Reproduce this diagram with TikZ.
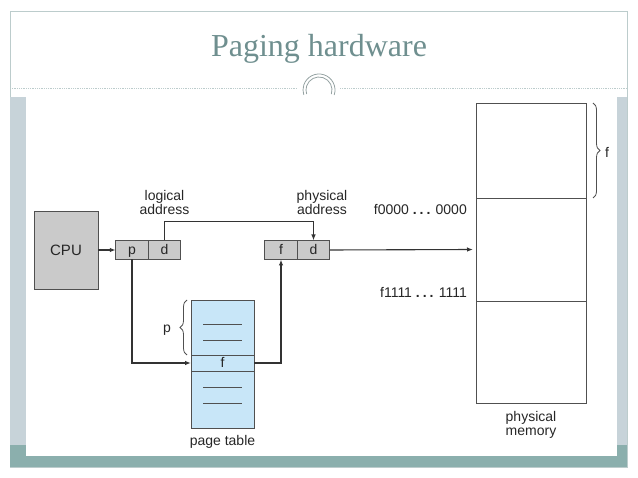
\documentclass[tikz,border=0pt]{standalone}
\usepackage{fontspec}
\setsansfont{Liberation Sans}
\newfontfamily\titlefont{Liberation Serif}
\usepackage{tikz}
\usetikzlibrary{positioning}
\usetikzlibrary{arrows.meta}
\usetikzlibrary{decorations.pathreplacing}

\definecolor{framegray}{HTML}{BCCCCC}
\definecolor{barblue}{HTML}{C7D3D9}
\definecolor{barteal}{HTML}{8BAFAD}
\definecolor{titlecol}{HTML}{6F8F8F}
\definecolor{boxgray}{HTML}{CACACA}
\definecolor{linegray}{HTML}{505050}
\definecolor{tableblue}{HTML}{C8E6F8}

\tikzset{
    txt/.style={font=\sffamily\fontsize{14}{14.5}\selectfont, text=black!85, align=center, inner sep=0pt},
    cell/.style={txt, draw=linegray, fill=boxgray, line width=0.9pt, minimum width=32.5pt, minimum height=19pt, outer sep=0pt, text height=10pt, text depth=0pt},
    memblk/.style={draw=linegray, fill=white, line width=0.9pt, minimum width=110pt, inner sep=0pt, outer sep=0pt},
    link/.style={line width=1.1pt, draw=black!80},
}

\begin{document}
\begin{tikzpicture}[x=1pt, y=-1pt, >={Latex[length=6pt,width=4.5pt]}]
    \useasboundingbox (0,0) rectangle (638,478);

    % slide frame
    \draw[framegray, line width=0.8pt] (10,11) rectangle (627,467);
    \fill[barblue] (10,97) rectangle (26,456);
    \fill[barblue] (617,97) rectangle (627,456);
    \fill[barteal] (10,445) rectangle (26,467);
    \fill[barteal] (617,445) rectangle (627,467);
    \fill[barteal] (10,456) rectangle (627,467);
    \draw[framegray, line width=0.8pt, dash pattern=on 1pt off 0.8pt] (10,88) -- (297,88);
    \draw[framegray, line width=0.8pt, dash pattern=on 1pt off 0.8pt] (340,88) -- (627,88);
    \draw[framegray!80!black, line width=0.8pt] (319,90) ++(18:16) arc[start angle=18, end angle=-198, radius=16];
    \draw[framegray!80!black, line width=0.8pt] (319,90) ++(18:13) arc[start angle=18, end angle=-198, radius=13];

    \node(title) [anchor=base, text=titlecol] at (319,57) {\titlefont\fontsize{32}{34}\selectfont Paging hardware};

    % diagram
    \node(cpu) [txt, draw=linegray, fill=boxgray, line width=0.9pt, minimum width=64pt, minimum height=78pt, outer sep=0pt] at (66,250) {\fontsize{15}{16}\selectfont CPU};
    \node(lp) [cell] at (132,250) {p};
    \node(ld) [cell, right=0pt of lp] {d};
    \node(pf) [cell] at (281,250) {f};
    \node(pd) [cell, right=0pt of pf] {d};

    \node(la) [txt] at (164.5,202.5) {logical\\address};
    \node(pa) [txt] at (322,202.5) {physical\\address};

    \node(pt) [draw=linegray, fill=tableblue, line width=0.9pt, minimum width=63pt, minimum height=128pt, inner sep=0pt, outer sep=0pt] at (222.5,364) {};
    \node(fr) [txt, draw=linegray, fill=tableblue, line width=0.9pt, minimum width=63pt, minimum height=16pt, outer sep=0pt, text height=10pt, text depth=0pt] at (222.5,363) {f};
    \foreach \y in {324,340,387,403}
        \draw[linegray, line width=0.9pt] (203,\y) -- (242,\y);
    \node(ptl) [txt, below=7pt of pt] {page table};
    \draw[linegray, line width=0.8pt, decorate, decoration={brace, amplitude=7pt}] (187,355) -- (187,300);
    \node(pl) [txt] at (167,330.5) {p};

    \node(m1) [memblk, minimum height=95pt] at (531,150.5) {};
    \node(m2) [memblk, minimum height=103pt, below=0pt of m1] {};
    \node(m3) [memblk, minimum height=102pt, below=0pt of m2] {};
    \node(ml) [txt, below=8pt of m3] {physical\\memory};
    \draw[linegray, line width=0.8pt, decorate, decoration={brace, amplitude=7pt}] (593,103) -- (593,198);
    \node(fl) [txt] at (607,152) {f};
    \node(lo) [txt, anchor=east] at (467,210) {f0000 {\bfseries .\hspace{3pt}.\hspace{3pt}.} 0000};
    \node(hi) [txt, anchor=east] at (467,292) {f1111 {\bfseries .\hspace{3pt}.\hspace{3pt}.} 1111};

    \draw[link, ->] (cpu.east) -- (lp.west);
    \draw[link, ->] (ld.north) -- ++(0,-19) -| (pd.north);
    \draw[link, ->] (lp.south) |- (fr.west);
    \draw[link, ->] (fr.east) -| (pf.south);
    \draw[link, ->] (pd.east) -- ([xshift=-3pt]m2.west);
\end{tikzpicture}
\end{document}
